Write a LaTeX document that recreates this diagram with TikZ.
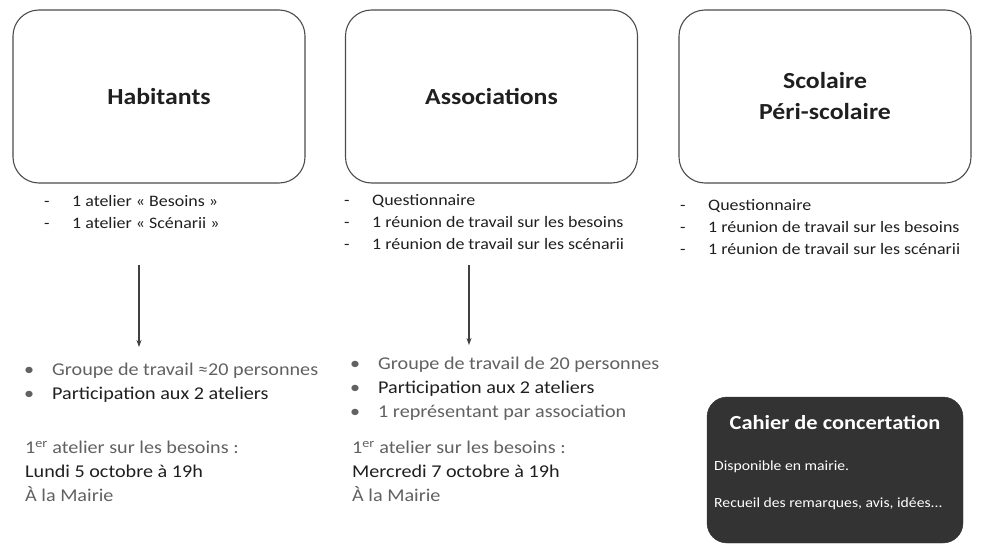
\documentclass[tikz,border=0pt]{standalone}
\usepackage{fontspec}
\setmainfont{Carlito}[FakeStretch=1.12]
\usetikzlibrary{arrows.meta,positioning}
\colorlet{linegray}{black!70}
\colorlet{softtext}{black!62}
\colorlet{hardtext}{black!88}
\colorlet{cahierfill}{black!80}
\newcommand{\dashitem}{\makebox[28pt][l]{-}}
\newcommand{\dotitem}{\makebox[28pt][l]{\textbullet}}
\tikzset{
    groupbox/.style = {
        draw=linegray, line width=1.1pt, rectangle, rounded corners=26pt,
        align=center,
        minimum width=292pt,
        minimum height=173pt,
        text=hardtext,
        font=\fontsize{23}{31}\selectfont\bfseries
    },
    uplist/.style = {
        anchor=north west, align=left,
        inner sep=0,
        text=hardtext,
        font=\fontsize{16}{22}\selectfont
    },
    lowlist/.style = {
        anchor=north west, align=left,
        inner sep=0,
        text=softtext,
        font=\fontsize{18}{24}\selectfont
    },
    cahierbox/.style = {
        fill=cahierfill, draw=cahierfill, rectangle, rounded corners=20pt,
        minimum width=256pt,
        minimum height=146pt
    },
    downarrow/.style = {
        draw=black!75, line width=1.1pt,
        -{Stealth[length=7pt,width=5pt]}
    }
}

\begin{document}
\begin{tikzpicture}[x=1pt,y=-1pt]
\useasboundingbox (0,0) rectangle (981,546);

\node[groupbox](hab) at (159,96.5){Habitants};
\node[groupbox](asso) at (491.5,96.5){Associations};
\node[groupbox](scol) at (825,96.5){Scolaire\\Péri-scolaire};

\node[uplist](habList) at (44,194.7){%
  \dashitem 1 atelier « Besoins »\\
  \dashitem 1 atelier « Scénarii »};
\node[uplist](assoList) at (344,194.7){%
  \dashitem Questionnaire\\
  \dashitem 1 réunion de travail sur les besoins\\
  \dashitem 1 réunion de travail sur les scénarii};
\node[uplist](scolList) at (680,199.7){%
  \dashitem Questionnaire\\
  \dashitem 1 réunion de travail sur les besoins\\
  \dashitem 1 réunion de travail sur les scénarii};

\coordinate (habFrom) at (139,265);
\coordinate (habTo) at (139,347);
\coordinate (assoFrom) at (469,265);
\coordinate (assoTo) at (469,345);
\draw[downarrow] (habFrom) -- (habTo);
\draw[downarrow] (assoFrom) -- (assoTo);

\node[lowlist](habGroup) at (24,363){%
  \dotitem Groupe de travail ≈20 personnes\\
  \dotitem {\color{hardtext}Participation aux 2 ateliers}};
\node[lowlist](habInfo) at (25,441){%
  1\textsuperscript{er} atelier sur les besoins :\\
  {\color{hardtext}Lundi 5 octobre à 19h}\\
  À la Mairie};

\node[lowlist](assoGroup) at (350,357){%
  \dotitem Groupe de travail de 20 personnes\\
  \dotitem {\color{hardtext}Participation aux 2 ateliers}\\
  \dotitem 1 représentant par association};
\node[lowlist](assoInfo) at (352,441){%
  1\textsuperscript{er} atelier sur les besoins :\\
  {\color{hardtext}Mercredi 7 octobre à 19h}\\
  À la Mairie};

\node[cahierbox](cahier) at (835,470){};
\node[text=white, font=\fontsize{20}{24}\selectfont\bfseries](cahierTitle) at (835,423){Cahier de concertation};
\node[text=white, anchor=west, inner sep=0, font=\fontsize{14}{17}\selectfont](cahierDispo) at (714,467){Disponible en mairie.};
\node[text=white, anchor=west, inner sep=0, font=\fontsize{14}{17}\selectfont](cahierAvis) at (714,504){Recueil des remarques, avis, idées...};

\end{tikzpicture}
\end{document}
